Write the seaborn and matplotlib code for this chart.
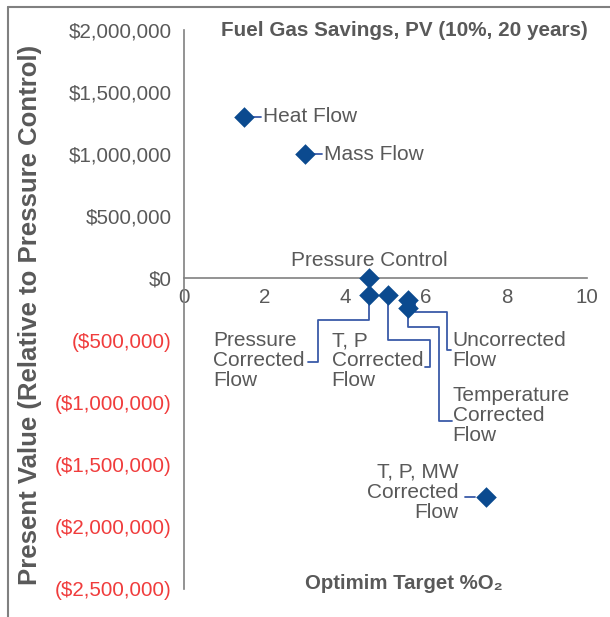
import numpy as np
import pandas as pd
import matplotlib
matplotlib.use("Agg")
import matplotlib.pyplot as plt
import matplotlib.transforms as mtransforms
from matplotlib.lines import Line2D
from matplotlib.ticker import FuncFormatter
import seaborn as sb

# data
methods = ["Heat Flow", "Mass Flow", "Pressure Control", "Pressure Corrected Flow",
           "T, P Corrected Flow", "Uncorrected Flow", "Temperature Corrected Flow",
           "T, P, MW Corrected Flow"]
labels = ["Heat Flow", "Mass Flow", "Pressure Control", "Pressure\nCorrected\nFlow",
          "T, P\nCorrected\nFlow", "Uncorrected\nFlow", "Temperature\nCorrected\nFlow",
          "T, P, MW\nCorrected\nFlow"]
target_o2 = [1.5, 3.0, 4.6, 4.6, 5.05, 5.55, 5.55, 7.5]
pv = [1300000, 1000000, 0, -130000, -130000, -175000, -235000, -1760000]

df = pd.DataFrame({"method": methods, "o2": target_o2, "pv": pv})

# label layout: text offset (px) and leader path (px) relative to each point
text_off = [(19, 0), (19, 0), (0, 18), (-156, -66), (-56, -66), (45, -50), (45, -108), (-28, 5)]
text_ha = ["left", "left", "center", "left", "left", "left", "left", "right"]
leaders = [
    [(9, 0), (17, 0)],
    [(9, 0), (17, 0)],
    [],
    [(0, -8), (0, -25), (-51, -25), (-51, -67), (-61, -67)],
    [(0, -8), (0, -45), (42, -45), (42, -72), (37, -72)],
    [(7, -2), (7, -12), (39, -12), (39, -50), (43, -50)],
    [(0, -6), (0, -19), (31, -19), (31, -113), (44, -113)],
    [(-21, 0), (-11, 0)],
]

sb.set_style("white")
plt.rcParams["font.family"] = ["Liberation Sans", "DejaVu Sans"]

grey = "#595959"
axis_grey = "#808080"
navy = "#0B4A8F"
lead = "#3A5BA8"
red = "#F03C3C"

fig = plt.figure(figsize=(6.10, 6.17), dpi=100)
ax = fig.add_axes([184 / 610, 1 - 589 / 617, 403 / 610, 559 / 617])

sb.scatterplot(data=df, x="o2", y="pv", marker="D", s=110, color=navy,
               edgecolor=navy, linewidth=0, ax=ax, zorder=5, legend=False)

ax.set_xlim(0, 10)
ax.set_ylim(-2500000, 2000000)
ax.set_xticks(np.arange(0, 11, 2))
ax.set_yticks(np.arange(-2500000, 2000001, 500000))

def money(v, pos):
    if v < 0:
        return "(${:,.0f})".format(-v)
    return "${:,.0f}".format(v)

ax.yaxis.set_major_formatter(FuncFormatter(money))

for s in ["top", "right"]:
    ax.spines[s].set_visible(False)
ax.spines["bottom"].set_position(("data", 0))
for s in ["left", "bottom"]:
    ax.spines[s].set_color(axis_grey)
    ax.spines[s].set_linewidth(1.2)

ax.tick_params(axis="both", direction="out", length=5, width=1.2, color=axis_grey,
               labelsize=14.8, labelcolor=grey)
ax.tick_params(axis="x", pad=2)
ax.tick_params(axis="y", pad=4)
for t, v in zip(ax.get_yticklabels(), ax.get_yticks()):
    if v < 0:
        t.set_color(red)

# labels and leader lines
for i in range(len(df)):
    x, y = df.o2[i], df.pv[i]
    ax.annotate(labels[i], (x, y), xytext=text_off[i], textcoords="offset pixels",
                ha=text_ha[i], va="center", multialignment=text_ha[i],
                fontsize=15, color=grey, linespacing=1.07)
    if leaders[i]:
        tr = fig.dpi_scale_trans + mtransforms.ScaledTranslation(x, y, ax.transData)
        px = [p[0] / 100 for p in leaders[i]]
        py = [p[1] / 100 for p in leaders[i]]
        ax.add_line(Line2D(px, py, transform=tr, color=lead, lw=1.3, zorder=4))

ax.text(0.546, 1.0, "Fuel Gas Savings, PV (10%, 20 years)", transform=ax.transAxes,
        ha="center", va="center", fontsize=14.9, fontweight="bold", color=grey)
ax.text(0.546, 0.01, "Optimim Target %O\u2082", transform=ax.transAxes,
        ha="center", va="center", fontsize=14.7, fontweight="bold", color=grey)
ax.set_xlabel("")
ax.set_ylabel("Present Value (Relative to Pressure Control)", fontsize=18.5,
              fontweight="bold", color=grey)
ax.yaxis.set_label_coords(-0.352, 0.49)

# outer frame
fig.add_artist(Line2D([8 / 610, 8 / 610], [0, 1 - 7 / 617], color=axis_grey, lw=1.5))
fig.add_artist(Line2D([8 / 610, 1], [1 - 7 / 617, 1 - 7 / 617], color=axis_grey, lw=1.5))

fig.savefig("out.png", dpi=100)
